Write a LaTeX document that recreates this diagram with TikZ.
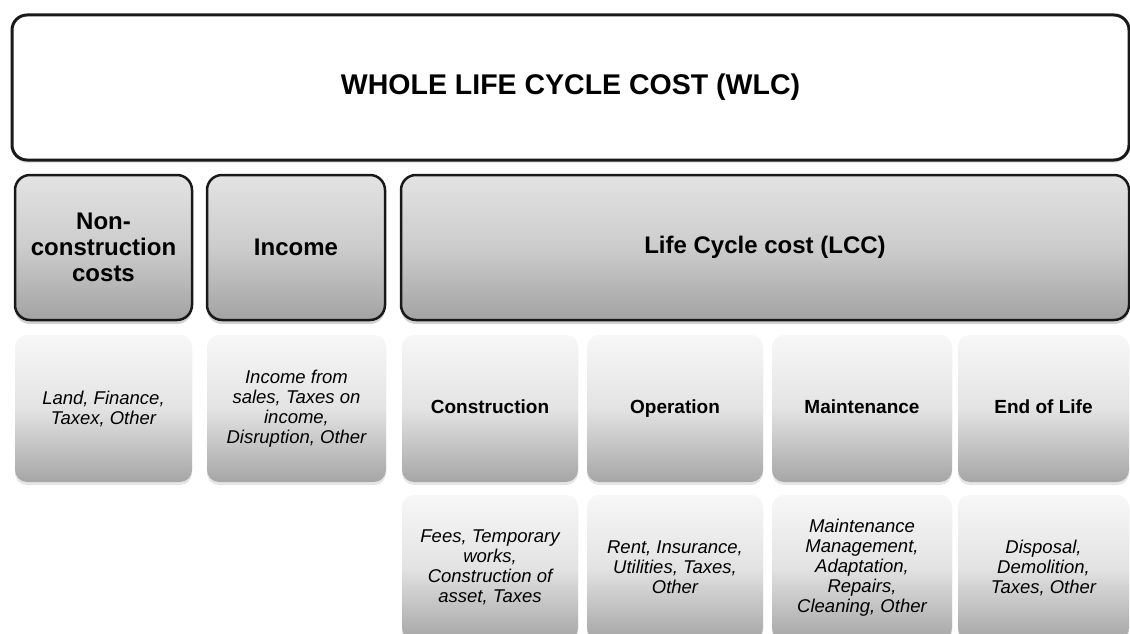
\documentclass[tikz,border=0pt]{standalone}
\usepackage{fontspec}
\setmainfont{Liberation Sans}
\usetikzlibrary{shadows}
\tikzset{
  wlcbox/.style={draw=black!90, line width=3pt, rounded corners=15pt, fill=white,
    drop shadow={shadow xshift=0pt, shadow yshift=-3pt, opacity=0.2},
    font=\fontsize{28.5}{31}\selectfont\bfseries, align=center},
  hdrbox/.style={draw=black!90, line width=2.5pt, rounded corners=15pt,
    top color=black!11, bottom color=black!36, middle color=black!20,
    drop shadow={shadow xshift=0pt, shadow yshift=-4pt, opacity=0.35},
    font=\fontsize{24}{26}\selectfont\bfseries, align=center, inner sep=0pt},
  subbox/.style={draw=none, rounded corners=12pt,
    top color=black!3, bottom color=black!35, middle color=black!11,
    drop shadow={shadow xshift=0pt, shadow yshift=-3pt, opacity=0.2},
    align=center, inner sep=0pt},
  labbold/.style={font=\fontsize{19}{21}\selectfont\bfseries, text height=14pt, text depth=4pt},
  labital/.style={font=\fontsize{18.5}{20}\selectfont\itshape}
}
\begin{document}
\begin{tikzpicture}[x=1pt,y=-1pt]
\useasboundingbox (0,0) rectangle (1130,634);
\clip (0,0) rectangle (1130,634);
\fill[white] (0,0) rectangle (1130,634);
% top
\node[wlcbox, minimum width=1117, minimum height=145] (wlc) at (570.5,87.5) {WHOLE LIFE CYCLE COST (WLC)};
% row 2
\node[hdrbox, minimum width=177, minimum height=145] (nc) at (103.5,247.5) {Non-\\construction\\costs};
\node[hdrbox, minimum width=178, minimum height=145] (inc) at (296,247.5) {Income};
\node[hdrbox, minimum width=728, minimum height=145] (lcc) at (765,247.5) {Life Cycle cost (LCC)};
% row 3
\node[subbox, labital, minimum width=177, minimum height=147] (ncd) at (103.5,408.5) {Land, Finance,\\Taxex, Other};
\node[subbox, labital, minimum width=179, minimum height=147] (incd) at (296.5,408.5) {Income from\\sales, Taxes on\\income,\\Disruption, Other};
\node[subbox, labbold, minimum width=176, minimum height=147] (con) at (490,408.5) {Construction};
\node[subbox, labbold, minimum width=176, minimum height=147] (op) at (675,408.5) {Operation};
\node[subbox, labbold, minimum width=180, minimum height=147] (mai) at (862,408.5) {Maintenance};
\node[subbox, labbold, minimum width=171, minimum height=147] (eol) at (1043.5,408.5) {End of Life};
% row 4
\node[subbox, labital, minimum width=176, minimum height=145] (cond) at (490,567.5) {Fees, Temporary\\works,\\Construction of\\asset, Taxes};
\node[subbox, labital, minimum width=176, minimum height=145] (opd) at (675,567.5) {Rent, Insurance,\\Utilities, Taxes,\\Other};
\node[subbox, labital, minimum width=180, minimum height=145] (maid) at (862,567.5) {Maintenance\\Management,\\Adaptation,\\Repairs,\\Cleaning, Other};
\node[subbox, labital, minimum width=171, minimum height=145] (eold) at (1043.5,567.5) {Disposal,\\Demolition,\\Taxes, Other};
\end{tikzpicture}
\end{document}
